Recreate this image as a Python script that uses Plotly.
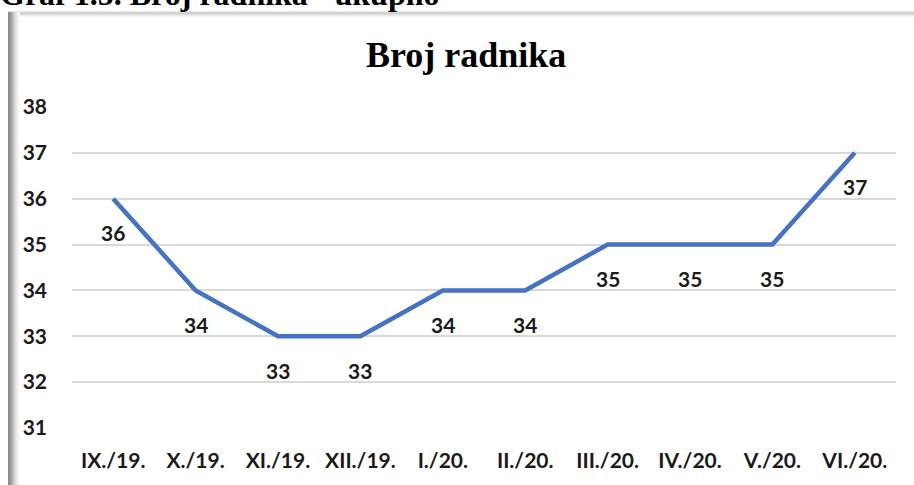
import plotly.graph_objects as go

categories = ["IX./19.", "X./19.", "XI./19.", "XII./19.", "I./20.", "II./20.",
              "III./20.", "IV./20.", "V./20.", "VI./20."]
values = [36, 34, 33, 33, 34, 34, 35, 35, 35, 37]
y_ticks = [31, 32, 33, 34, 35, 36, 37, 38]

W, H = 914, 485
ML, MR, MT, MB = 72, 18, 107, 57
PW = W - ML - MR
PH = H - MT - MB


def px(x):
    return (x - ML) / PW


def py(y):
    return (H - MB - y) / PH


fig = go.Figure()
fig.add_trace(go.Scatter(
    x=categories, y=values, mode="lines",
    line=dict(color="#4472C4", width=4.5),
    hoverinfo="skip", showlegend=False, cliponaxis=False,
))

label_font = dict(family="Lato, Carlito, Calibri, sans-serif", size=21, color="#1a1a1a")
annotations = []
for c, v in zip(categories, values):
    annotations.append(dict(x=c, y=v, xref="x", yref="y", text=f"<b>{v}</b>",
                            showarrow=False, yshift=-34, font=label_font))

# cut heading above chart
annotations.append(dict(x=px(-2), y=py(14), xref="paper", yref="paper",
                        xanchor="left", yanchor="bottom", showarrow=False,
                        text="<b>Graf 1.5. Broj radnika - ukupno</b>",
                        font=dict(family="Liberation Serif, Times New Roman, serif",
                                  size=32, color="#000000")))
# chart title
annotations.append(dict(x=px(466), y=py(55), xref="paper", yref="paper",
                        xanchor="center", yanchor="middle", showarrow=False,
                        text="<b>Broj radnika</b>",
                        font=dict(family="Liberation Serif, Times New Roman, serif",
                                  size=36, color="#000000")))

shapes = []
# top shadow line
top_grays = ["#e6e6e6", "#d4d4d4", "#d0d0d0", "#dcdcdc", "#ececec", "#f6f6f6"]
for i, g in enumerate(top_grays):
    shapes.append(dict(type="rect", xref="paper", yref="paper",
                       x0=px(8), x1=px(W + 2), y0=py(11 + i + 1), y1=py(11 + i),
                       fillcolor=g, line=dict(width=0), layer="below"))
# left shadow band
left_grays = ["#8c8c8c", "#909090", "#9a9a9a", "#a6a6a6", "#b4b4b4", "#c4c4c4",
              "#d2d2d2", "#dedede", "#e8e8e8", "#f0f0f0", "#f6f6f6", "#fbfbfb"]
for i, g in enumerate(left_grays):
    shapes.append(dict(type="rect", xref="paper", yref="paper",
                       x0=px(8 + i), x1=px(9 + i), y0=py(H + 2), y1=py(12),
                       fillcolor=g, line=dict(width=0), layer="below"))

tick_font = dict(family="Lato, Carlito, Calibri, sans-serif", size=21, color="#1a1a1a")
fig.update_layout(
    width=W, height=H,
    margin=dict(l=ML, r=MR, t=MT, b=MB, pad=0),
    paper_bgcolor="white", plot_bgcolor="white",
    font=dict(family="Lato, sans-serif"),
    annotations=annotations,
    shapes=shapes,
    xaxis=dict(type="category", range=[-0.5, len(categories) - 0.5],
               showgrid=False, zeroline=False, showline=False, ticks="",
               tickfont=tick_font, ticklabelstandoff=18,
               tickvals=categories, ticktext=[f"<b>{c}</b>" for c in categories]),
    yaxis=dict(range=[y_ticks[0], y_ticks[-1]], tickvals=y_ticks,
               ticktext=[f"<b>{t}</b>" for t in y_ticks],
               showgrid=True, gridcolor="#d9d9d9", gridwidth=2,
               zeroline=False, showline=False, ticks="",
               tickfont=tick_font, ticklabelstandoff=24),
)

fig.write_html("out.html",
               config={"displayModeBar": False},
               post_script="document.body.style.margin='0px';"
                           "document.body.style.overflow='hidden';")
